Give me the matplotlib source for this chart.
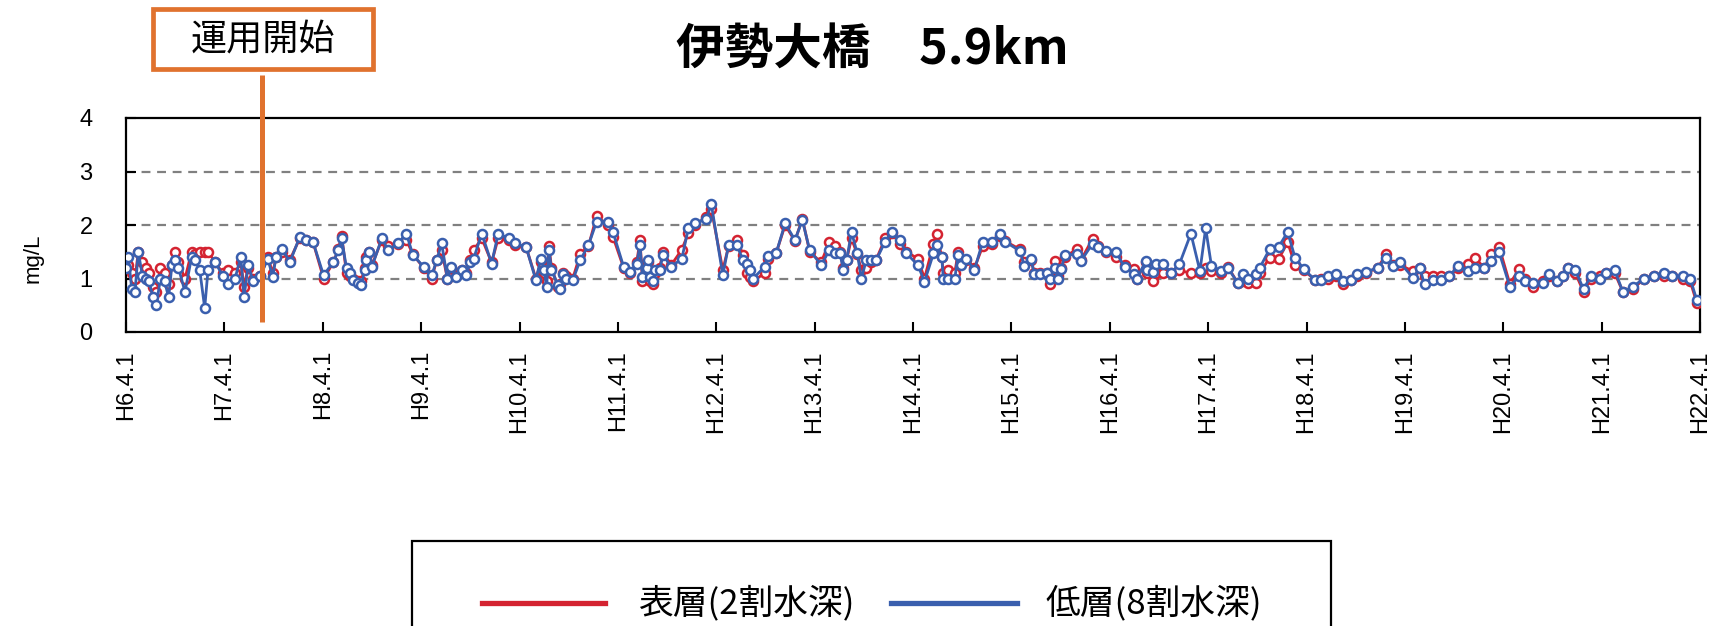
import matplotlib
matplotlib.use('Agg')
import matplotlib.pyplot as plt
from matplotlib.patches import Rectangle
from matplotlib.lines import Line2D
import matplotlib.transforms as mtransforms

plt.rcParams['font.family'] = ['Liberation Sans', 'Noto Sans CJK JP', 'DejaVu Sans']

# ---------------- data ----------------
title = '伊勢大橋\u30005.9km'
ylabel = 'mg/L'
start_label = '運用開始'
start_month = 16.6          # months after H6.4.1
series_names = ['表層(2割水深)', '低層(8割水深)']
tick_labels = ['H6.4.1', 'H7.4.1', 'H8.4.1', 'H9.4.1', 'H10.4.1', 'H11.4.1', 'H12.4.1',
               'H13.4.1', 'H14.4.1', 'H15.4.1', 'H16.4.1', 'H17.4.1', 'H18.4.1',
               'H19.4.1', 'H20.4.1', 'H21.4.1', 'H22.4.1']
tick_months = [0, 12, 24, 36, 48, 60, 72, 84, 96, 108, 120, 132, 144, 156, 168, 180, 192]

# sampling time, months after H6.4.1
months = [
    0, 0.3, 0.7, 1.1, 1.5, 2.0, 2.4, 2.8, 3.3, 3.7, 4.2, 4.7, 5.2, 5.6, 6.0, 6.4, 7.2, 8.0, 8.4, 9.0, 9.6, 10.0, 10.9, 11.8,
    12.5, 13.3, 14.0, 14.4, 14.9, 15.5, 16.4, 17.3, 17.9, 18.3, 19.0, 20.0, 21.2, 22.0, 22.8,
    24.1, 25.3, 25.9, 26.3, 26.9, 27.3, 27.7, 28.3, 28.7, 29.1, 29.3, 29.6, 30.0, 31.2, 32.0, 33.2, 34.2, 35.0,
    36.3, 37.3, 37.9, 38.5, 39.2, 39.7, 40.3, 41.0, 41.5, 42.0, 42.4, 43.4, 44.6, 45.4, 46.7, 47.4,
    48.8, 50.0, 50.6, 51.0, 51.3, 51.6, 51.9, 52.7, 52.9, 53.3, 53.7, 54.5, 55.4, 56.4, 57.4, 58.8, 59.4,
    60.7, 61.5, 62.3, 62.7, 63.0, 63.5, 63.7, 63.9, 64.3, 64.5, 65.1, 65.5, 66.5, 67.8, 68.6, 69.4, 70.8, 71.4,
    72.8, 73.5, 74.5, 75.3, 75.7, 76.1, 76.5, 77.9, 78.3, 79.3, 80.4, 81.6, 82.5, 83.4,
    84.8, 85.8, 86.5, 87.1, 87.5, 87.9, 88.5, 89.2, 89.7, 90.3, 90.9, 91.5, 92.6, 93.4, 94.4, 95.2,
    96.6, 97.4, 98.5, 98.9, 99.5, 99.7, 100.3, 101.1, 101.5, 101.9, 102.5, 103.5, 104.5, 105.6, 106.6, 107.2,
    109.0, 109.6, 110.4, 110.8, 111.5, 112.3, 112.7, 113.3, 113.7, 114.1, 114.5, 116.0, 116.5, 117.9, 118.6, 119.6,
    120.8, 121.8, 123.0, 123.3, 124.4, 124.6, 125.3, 125.7, 126.5, 127.5, 128.5, 129.9, 131.0, 131.7,
    132.4, 133.6, 134.4, 135.6, 136.3, 136.9, 137.9, 138.3, 139.5, 140.6, 141.7, 142.6, 143.7,
    145.0, 145.8, 146.6, 147.6, 148.4, 149.4, 150.2, 151.2, 152.7, 153.7, 154.6, 155.4,
    157.0, 157.8, 158.4, 159.4, 160.4, 161.4, 162.5, 163.7, 164.5, 165.7, 166.5, 167.5,
    168.8, 169.9, 170.6, 171.6, 172.8, 173.6, 174.5, 175.3, 175.9, 176.8, 177.8, 178.7, 179.8,
    180.5, 181.6, 182.6, 183.8, 185.2, 186.4, 187.6, 188.6, 189.9, 190.8, 191.6]

# 低層 (bottom layer, blue)
bottom = [
    1.2, 1.4, 0.8, 0.75, 1.5, 1.05, 1.0, 0.95, 0.65, 0.5, 1.0, 0.95, 0.65, 1.25, 1.35, 1.2, 0.75, 1.4, 1.35, 1.15, 0.45, 1.15, 1.3, 1.05,
    0.9, 1.0, 1.4, 0.65, 1.25, 0.95, 1.05, 1.37, 1.03, 1.4, 1.56, 1.31, 1.78, 1.72, 1.69,
    1.06, 1.31, 1.53, 1.75, 1.19, 1.1, 0.97, 0.91, 0.87, 1.15, 1.34, 1.5, 1.22, 1.75, 1.53, 1.66, 1.84, 1.44,
    1.22, 1.06, 1.34, 1.66, 1.0, 1.22, 1.03, 1.16, 1.06, 1.3, 1.37, 1.84, 1.28, 1.84, 1.75, 1.66,
    1.59, 0.97, 1.37, 1.16, 0.84, 1.53, 1.16, 0.87, 0.81, 1.09, 1.0, 0.97, 1.34, 1.62, 2.06, 2.06, 1.87,
    1.22, 1.12, 1.28, 1.62, 1.03, 1.19, 1.34, 1.03, 0.95, 1.16, 1.16, 1.44, 1.22, 1.37, 1.94, 2.03, 2.12, 2.39,
    1.06, 1.62, 1.62, 1.34, 1.28, 1.16, 1.0, 1.22, 1.42, 1.47, 2.03, 1.72, 2.09, 1.53,
    1.25, 1.53, 1.47, 1.47, 1.16, 1.34, 1.87, 1.47, 1.0, 1.34, 1.34, 1.34, 1.69, 1.87, 1.72, 1.47,
    1.25, 0.94, 1.47, 1.62, 1.41, 1.0, 1.0, 1.0, 1.44, 1.25, 1.37, 1.16, 1.69, 1.69, 1.84, 1.69,
    1.52, 1.24, 1.36, 1.08, 1.08, 1.11, 0.99, 1.2, 1.0, 1.18, 1.43, 1.46, 1.33, 1.65, 1.58, 1.52,
    1.49, 1.21, 1.08, 0.99, 1.33, 1.15, 1.12, 1.27, 1.27, 1.11, 1.27, 1.84, 1.14, 1.94,
    1.24, 1.14, 1.2, 0.92, 1.08, 1.0, 1.08, 1.2, 1.55, 1.59, 1.87, 1.39, 1.17,
    0.98, 0.98, 1.04, 1.08, 0.95, 0.98, 1.08, 1.12, 1.2, 1.39, 1.24, 1.3,
    1.01, 1.2, 0.89, 0.98, 0.98, 1.04, 1.24, 1.14, 1.2, 1.2, 1.33, 1.49,
    0.85, 1.04, 0.95, 0.92, 0.92, 1.08, 0.95, 1.05, 1.2, 1.15, 0.8, 1.05, 1.0,
    1.1, 1.15, 0.75, 0.85, 1.0, 1.05, 1.1, 1.05, 1.05, 1.0, 0.6]

# 表層 (surface layer, red)
surface = [
    1.3, 1.25, 1.1, 1.0, 1.5, 1.3, 1.2, 1.1, 0.85, 0.75, 1.2, 1.1, 0.9, 1.25, 1.5, 1.3, 1.0, 1.5, 1.45, 1.5, 1.5, 1.5, 1.3, 1.1,
    1.15, 1.1, 1.3, 0.85, 1.2, 1.0, 1.05, 1.4, 1.1, 1.4, 1.5, 1.35, 1.75, 1.72, 1.69,
    1.0, 1.3, 1.55, 1.8, 1.1, 1.05, 1.0, 0.95, 0.95, 1.2, 1.4, 1.5, 1.25, 1.72, 1.6, 1.65, 1.72, 1.45,
    1.2, 1.0, 1.35, 1.53, 1.0, 1.2, 1.05, 1.15, 1.1, 1.35, 1.53, 1.75, 1.3, 1.75, 1.72, 1.62,
    1.59, 1.0, 1.3, 1.1, 0.95, 1.6, 1.2, 0.85, 0.9, 1.1, 1.05, 1.0, 1.45, 1.6, 2.16, 2.0, 1.78,
    1.2, 1.1, 1.3, 1.72, 0.95, 1.2, 1.3, 0.95, 0.9, 1.1, 1.2, 1.5, 1.25, 1.54, 1.85, 2.0, 2.15, 2.3,
    1.16, 1.6, 1.72, 1.44, 1.1, 1.03, 0.95, 1.1, 1.37, 1.47, 2.0, 1.7, 2.12, 1.5,
    1.3, 1.69, 1.6, 1.5, 1.2, 1.35, 1.75, 1.45, 1.16, 1.2, 1.3, 1.35, 1.75, 1.85, 1.65, 1.5,
    1.37, 1.0, 1.65, 1.84, 1.4, 1.1, 1.15, 1.1, 1.5, 1.3, 1.35, 1.2, 1.6, 1.65, 1.8, 1.7,
    1.55, 1.3, 1.35, 1.1, 1.1, 1.1, 0.89, 1.33, 1.05, 1.2, 1.4, 1.55, 1.35, 1.74, 1.6, 1.5,
    1.4, 1.25, 1.18, 1.0, 1.3, 1.1, 0.96, 1.1, 1.1, 1.1, 1.15, 1.1, 1.1, 1.2,
    1.14, 1.1, 1.22, 0.92, 0.95, 0.92, 0.92, 1.1, 1.39, 1.36, 1.68, 1.25, 1.15,
    0.98, 1.0, 1.0, 1.05, 0.89, 0.98, 1.05, 1.1, 1.2, 1.45, 1.25, 1.25,
    1.14, 1.2, 1.04, 1.04, 1.04, 1.04, 1.2, 1.27, 1.39, 1.2, 1.45, 1.59,
    0.9, 1.17, 1.0, 0.85, 0.95, 1.05, 0.95, 1.05, 1.2, 1.1, 0.75, 1.0, 1.05,
    1.1, 1.1, 0.75, 0.8, 1.0, 1.05, 1.05, 1.05, 1.0, 0.95, 0.55]

# ---------------- style ----------------
RED = '#d42331'
BLUE = '#3a5fae'
ORANGE = '#e0722e'
W, H = 1725, 626

fig = plt.figure(figsize=(W / 100, H / 100), dpi=100)
ax = fig.add_axes([126 / W, 1 - 332 / H, (1700 - 126) / W, (332 - 118) / H])

for yv in [1, 2, 3]:
    ax.axhline(yv, color='#808080', lw=1.6, dashes=(4, 3), zorder=1)

ax.plot(months, surface, color=RED, lw=2.0, marker='o', ms=6.5, mfc='white',
        mec=RED, mew=1.8, zorder=3)
ax.plot(months, bottom, color=BLUE, lw=2.0, marker='o', ms=6.5, mfc='white',
        mec=BLUE, mew=1.8, zorder=4)

ax.set_xlim(0, 192)
ax.set_ylim(0, 4)
ax.set_yticks([0, 1, 2, 3, 4])
ax.set_xticks(tick_months)
ax.set_xticklabels(tick_labels, rotation=90, fontsize=17)
ax.tick_params(axis='y', direction='in', length=7, width=1.5, labelsize=17, pad=24)
ax.tick_params(axis='x', direction='in', length=7, width=1.5, pad=13)
for s in ax.spines.values():
    s.set_linewidth(1.6)
    s.set_color('black')

fig.text(33 / W, 1 - 258 / H, ylabel, rotation=90, ha='center', va='center', fontsize=16)

# operation start marker
trans = mtransforms.blended_transform_factory(ax.transData, ax.transAxes)
ax.plot([start_month, start_month], [(332 - 322) / 214, (332 - 75) / 214],
        transform=trans, color=ORANGE, lw=3.6, clip_on=False, zorder=5,
        solid_capstyle='butt')
fig.add_artist(Rectangle((153 / W, 1 - 69 / H), 220 / W, 60 / H, transform=fig.transFigure,
                         fc='white', ec=ORANGE, lw=3.4))
fig.text(263 / W, 1 - 40 / H, start_label, ha='center', va='center', fontsize=26,
         family=['Noto Sans CJK JP'])

# title
fig.text(872 / W, 1 - 50 / H, title, ha='center', va='center', fontsize=35,
         fontweight='bold', family=['Noto Sans CJK JP', 'DejaVu Sans'])

# legend (drawn manually; box runs off the bottom edge)
fig.add_artist(Rectangle((412 / W, 1 - 720 / H), (1331 - 412) / W, (720 - 541) / H,
                         transform=fig.transFigure, fill=False, ec='black', lw=1.6))
ly = 1 - 603 / H
fig.add_artist(Line2D([482 / W, 605 / W], [ly, ly], transform=fig.transFigure, color=RED, lw=3.8))
fig.text(638 / W, ly, series_names[0], ha='left', va='center', fontsize=25,
         family=['Noto Sans CJK JP'])
fig.add_artist(Line2D([891 / W, 1017 / W], [ly, ly], transform=fig.transFigure, color=BLUE, lw=3.8))
fig.text(1045 / W, ly, series_names[1], ha='left', va='center', fontsize=25,
         family=['Noto Sans CJK JP'])

fig.savefig('out.png', dpi=100, facecolor='white')
